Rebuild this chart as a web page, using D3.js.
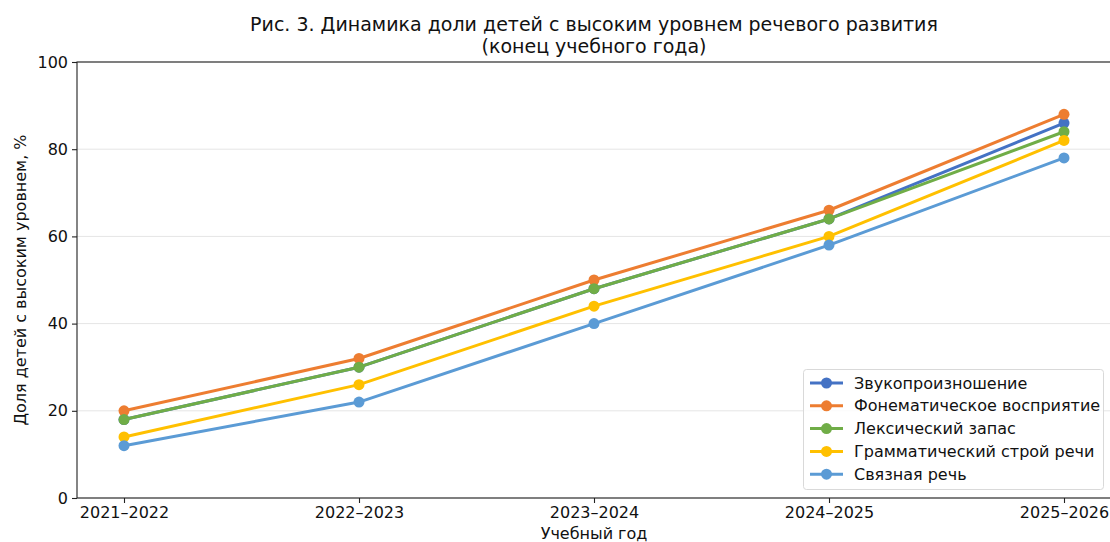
<!DOCTYPE html>
<html><head><meta charset="utf-8">
<script src="https://cdn.jsdelivr.net/npm/d3@7"></script>
<style>body{margin:0;background:#fff}svg{display:block;font-family:"DejaVu Sans",sans-serif}</style>
</head><body><svg id="c" width="1110" height="542"></svg>
<script>
const categories = ["2021–2022","2022–2023","2023–2024","2024–2025","2025–2026"];
const seriesNames = ["Звукопроизношение","Фонематическое восприятие","Лексический запас","Грамматический строй речи","Связная речь"];
const seriesColors = ["#4472C4","#ED7D31","#70AD47","#FFC000","#5B9BD5"];
const zvuk = [18,30,48,64,86];
const fonem = [20,32,50,66,88];
const leks = [18,30,48,64,84];
const gramm = [14,26,44,60,82];
const svyaz = [12,22,40,58,78];
const yTicks = [0,20,40,60,80,100];
const series = [zvuk,fonem,leks,gramm,svyaz];

const svg = d3.select("#c");
const L=77, R=1111, T=62, B=498;
const x = d3.scalePoint().domain(categories).range([L,R]).padding(0.2);
const y = d3.scaleLinear().domain([0,100]).range([B,T]);

// grid
svg.append("g").selectAll("line").data(yTicks).join("line")
  .attr("x1",L).attr("x2",R).attr("y1",d=>y(d)).attr("y2",d=>y(d))
  .attr("stroke","#e5e5e5").attr("stroke-width",1);

// axes
const ya = svg.append("g").attr("transform",`translate(${L},0)`)
  .call(d3.axisLeft(y).tickValues(yTicks).tickSize(5).tickPadding(4));
const xa = svg.append("g").attr("transform",`translate(0,${B})`)
  .call(d3.axisBottom(x).tickSize(5).tickPadding(4));
[ya,xa].forEach(a=>{a.select(".domain").remove();
  a.selectAll("text").attr("font-size",16).attr("fill","#111").attr("font-family","DejaVu Sans");
  a.selectAll("line").attr("stroke","#222").attr("stroke-width",1.1);});
// spines
svg.append("rect").attr("x",L).attr("y",T).attr("width",R-L).attr("height",B-T)
  .attr("fill","none").attr("stroke","#222").attr("stroke-width",1.1);

// lines
const line = d3.line().x((d,i)=>x(categories[i])).y(d=>y(d));
series.forEach((s,k)=>{
  const g = svg.append("g");
  g.append("path").datum(s).attr("d",line).attr("fill","none")
    .attr("stroke",seriesColors[k]).attr("stroke-width",3).attr("stroke-linejoin","round");
  g.selectAll("circle").data(s).join("circle")
    .attr("cx",(d,i)=>x(categories[i])).attr("cy",d=>y(d)).attr("r",5.5).attr("fill",seriesColors[k]);
});

// title
svg.append("text").attr("x",594).attr("y",31).attr("text-anchor","middle").attr("font-size",19)
  .attr("fill","#111").text("Рис. 3. Динамика доли детей с высоким уровнем речевого развития");
svg.append("text").attr("x",594).attr("y",53).attr("text-anchor","middle").attr("font-size",19)
  .attr("fill","#111").text("(конец учебного года)");
// axis labels
svg.append("text").attr("x",594).attr("y",539).attr("text-anchor","middle").attr("font-size",16)
  .attr("fill","#111").text("Учебный год");
svg.append("text").attr("transform","translate(26,280) rotate(-90)").attr("text-anchor","middle")
  .attr("font-size",16).attr("fill","#111").text("Доля детей с высоким уровнем, %");

// legend
const lg = svg.append("g");
lg.append("rect").attr("x",803.5).attr("y",369.5).attr("width",300).attr("height",120).attr("rx",3)
  .attr("fill","#fff").attr("fill-opacity",0.8).attr("stroke","#d9d9d9");
seriesNames.forEach((n,k)=>{
  const yy = 383 + k*22.8;
  lg.append("line").attr("x1",810).attr("x2",843).attr("y1",yy).attr("y2",yy)
    .attr("stroke",seriesColors[k]).attr("stroke-width",3);
  lg.append("circle").attr("cx",826.5).attr("cy",yy).attr("r",5.5).attr("fill",seriesColors[k]);
  lg.append("text").attr("x",854).attr("y",yy+5.5).attr("font-size",16).attr("fill","#111").text(n);
});
</script></body></html>
